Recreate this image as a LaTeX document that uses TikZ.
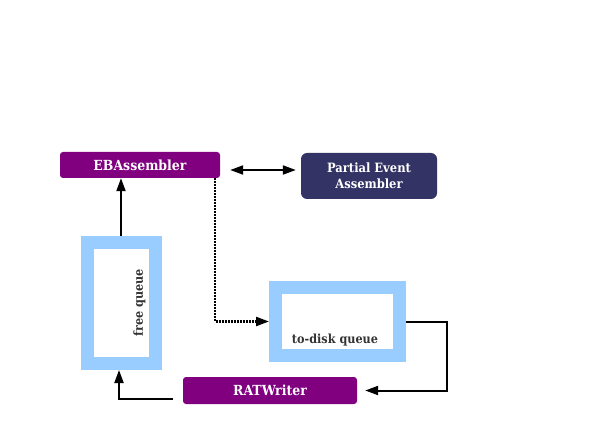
\documentclass[tikz,border=0pt]{standalone}
\usepackage{fontspec}
\setmainfont{DejaVu Serif Condensed}
\usetikzlibrary{arrows.meta,positioning}
\definecolor{ebpurple}{RGB}{128,0,128}
\definecolor{peablue}{RGB}{51,51,102}
\definecolor{qblue}{RGB}{153,204,255}
\definecolor{qtext}{RGB}{51,51,51}
\tikzset{
	proc/.style={fill=ebpurple, text=white, rounded corners=3pt, inner sep=0pt, font=\bfseries\fontsize{13.9}{15}\selectfont},
	queue/.style={draw=qblue, line width=13pt, fill=white, inner sep=0pt},
	qlabel/.style={text=qtext, font=\bfseries\fontsize{12.5}{13}\selectfont},
	link/.style={line width=2pt, -{Triangle[length=13pt,width=9pt]}},
}

\begin{document}
\begin{tikzpicture}[x=1pt,y=-1pt]
	\useasboundingbox (0,0) rectangle (592,441);
	\node[proc, minimum width=160pt, minimum height=26pt] (eb) at (140,165) {EBAssembler};
	\node[proc, fill=peablue, rounded corners=6pt, minimum width=136pt, minimum height=46pt, align=center, font=\bfseries\fontsize{12.8}{16}\selectfont] (pea) at (369,176) {Partial Event\\Assembler};
	\node[queue, minimum width=68pt, minimum height=121pt] (fq) at (121.5,303) {};
	\node[qlabel, rotate=90] (fql) at ([xshift=18pt]fq.center) {free queue};
	\node[queue, minimum width=124pt, minimum height=68pt] (tq) at (337.5,321.5) {};
	\node[qlabel] (tql) at ([shift={(-2.5pt,-18.5pt)}]tq.center) {to-disk queue};
	\node[proc, minimum width=174pt, minimum height=27pt] (rw) at (270,390.5) {RATWriter};

	\draw[link, {Triangle[length=13pt,width=9pt]}-{Triangle[length=13pt,width=9pt]}] ([shift={(10pt,-5pt)}]eb.east) -- ([shift={(-5pt,6pt)}]pea.west);
	\draw[link] ([xshift=-0.5pt]fq.north) -- ([xshift=-19pt]eb.south);
	\draw[link, densely dotted, line width=2.2pt] ([xshift=75pt]eb.south) |- (tq.west);
	\draw[link] (tq.east) -- ++(41pt,0) |- ([xshift=8pt]rw.east);
	\draw[link] ([shift={(-10pt,-8.5pt)}]rw.west) -| ([xshift=-2.5pt]fq.south);
\end{tikzpicture}
\end{document}
